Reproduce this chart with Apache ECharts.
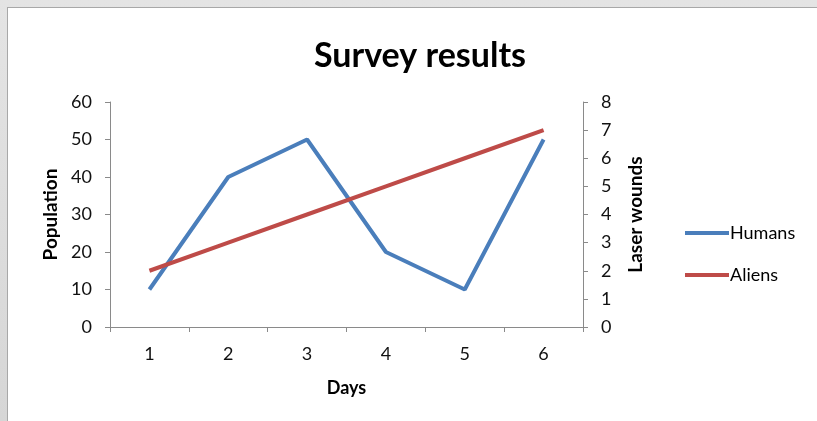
<!DOCTYPE html>
<html>
<head>
<meta charset="utf-8">
<script src="https://cdn.jsdelivr.net/npm/echarts@6/dist/echarts.min.js"></script>
<style>
  html, body { margin: 0; padding: 0; width: 817px; height: 421px; overflow: hidden;
    background: linear-gradient(#e4e4e4, #d6d6d6); }
  #frame { position: absolute; left: 7px; top: 7px; width: 810px; height: 414px;
    border-top: 1px solid #a8a8a8; border-left: 1px solid #a8a8a8; background: #fff; }
  #container { width: 809px; height: 413px; }
</style>
</head>
<body>
<div id="frame"><div id="container"></div></div>
<script>
let days = ['1', '2', '3', '4', '5', '6'];
let humans = [10, 40, 50, 20, 10, 50];
let aliens = [2, 3, 4, 5, 6, 7];

let font = 'Lato';
let axisColor = '#8a8a8a';

var myChart = echarts.init(document.getElementById('container'));

let option = {
  textStyle: { fontFamily: font },
  title: {
    text: 'Survey results',
    left: 407,
    top: 26,
    textAlign: 'center',
    textStyle: { fontFamily: font, fontSize: 34, fontWeight: 'bold', color: '#000' },
  },
  grid: {
    left: 102,
    top: 94,
    width: 473,
    height: 225,
  },
  legend: {
    orient: 'vertical',
    left: 672,
    top: 211,
    itemWidth: 44,
    itemHeight: 4,
    itemGap: 24,
    icon: 'rect',
    textStyle: { fontFamily: font, fontSize: 18, color: '#000', padding: [0, 0, 0, -4] },
    data: ['Humans', 'Aliens'],
  },
  xAxis: {
    type: 'category',
    data: days,
    name: 'Days',
    nameLocation: 'middle',
    nameGap: 52,
    nameTextStyle: { fontFamily: font, fontSize: 18, fontWeight: 'bold', color: '#000' },
    axisLine: { lineStyle: { color: axisColor, width: 1 } },
    axisTick: { show: true, length: 5, lineStyle: { color: axisColor } },
    axisLabel: { fontFamily: font, fontSize: 18, color: '#111', margin: 18 },
  },
  yAxis: [
    {
      type: 'value',
      min: 0,
      max: 60,
      interval: 10,
      name: 'Population',
      nameLocation: 'middle',
      nameGap: 48,
      nameTextStyle: { fontFamily: font, fontSize: 19, fontWeight: 'bold', color: '#000' },
      axisLine: { show: true, lineStyle: { color: axisColor } },
      axisTick: { show: true, length: 5, lineStyle: { color: axisColor } },
      axisLabel: { fontFamily: font, fontSize: 18, color: '#111', margin: 18 },
      splitLine: { show: false },
    },
    {
      type: 'value',
      min: 0,
      max: 8,
      interval: 1,
      name: 'Laser wounds',
      nameLocation: 'middle',
      nameGap: 43,
      nameRotate: 90,
      nameTextStyle: { fontFamily: font, fontSize: 19, fontWeight: 'bold', color: '#000' },
      axisLine: { show: true, lineStyle: { color: axisColor } },
      axisTick: { show: true, length: 5, lineStyle: { color: axisColor } },
      axisLabel: { fontFamily: font, fontSize: 18, color: '#111', margin: 18 },
      splitLine: { show: false },
    },
  ],
  series: [
    {
      name: 'Humans',
      type: 'line',
      data: humans,
      yAxisIndex: 0,
      symbol: 'none',
      color: '#4a7ebb',
      lineStyle: { width: 4, color: '#4a7ebb' },
    },
    {
      name: 'Aliens',
      type: 'line',
      data: aliens,
      yAxisIndex: 1,
      symbol: 'none',
      color: '#be4b48',
      lineStyle: { width: 4, color: '#be4b48' },
    },
  ],
};

myChart.setOption(option);
</script>
</body>
</html>
